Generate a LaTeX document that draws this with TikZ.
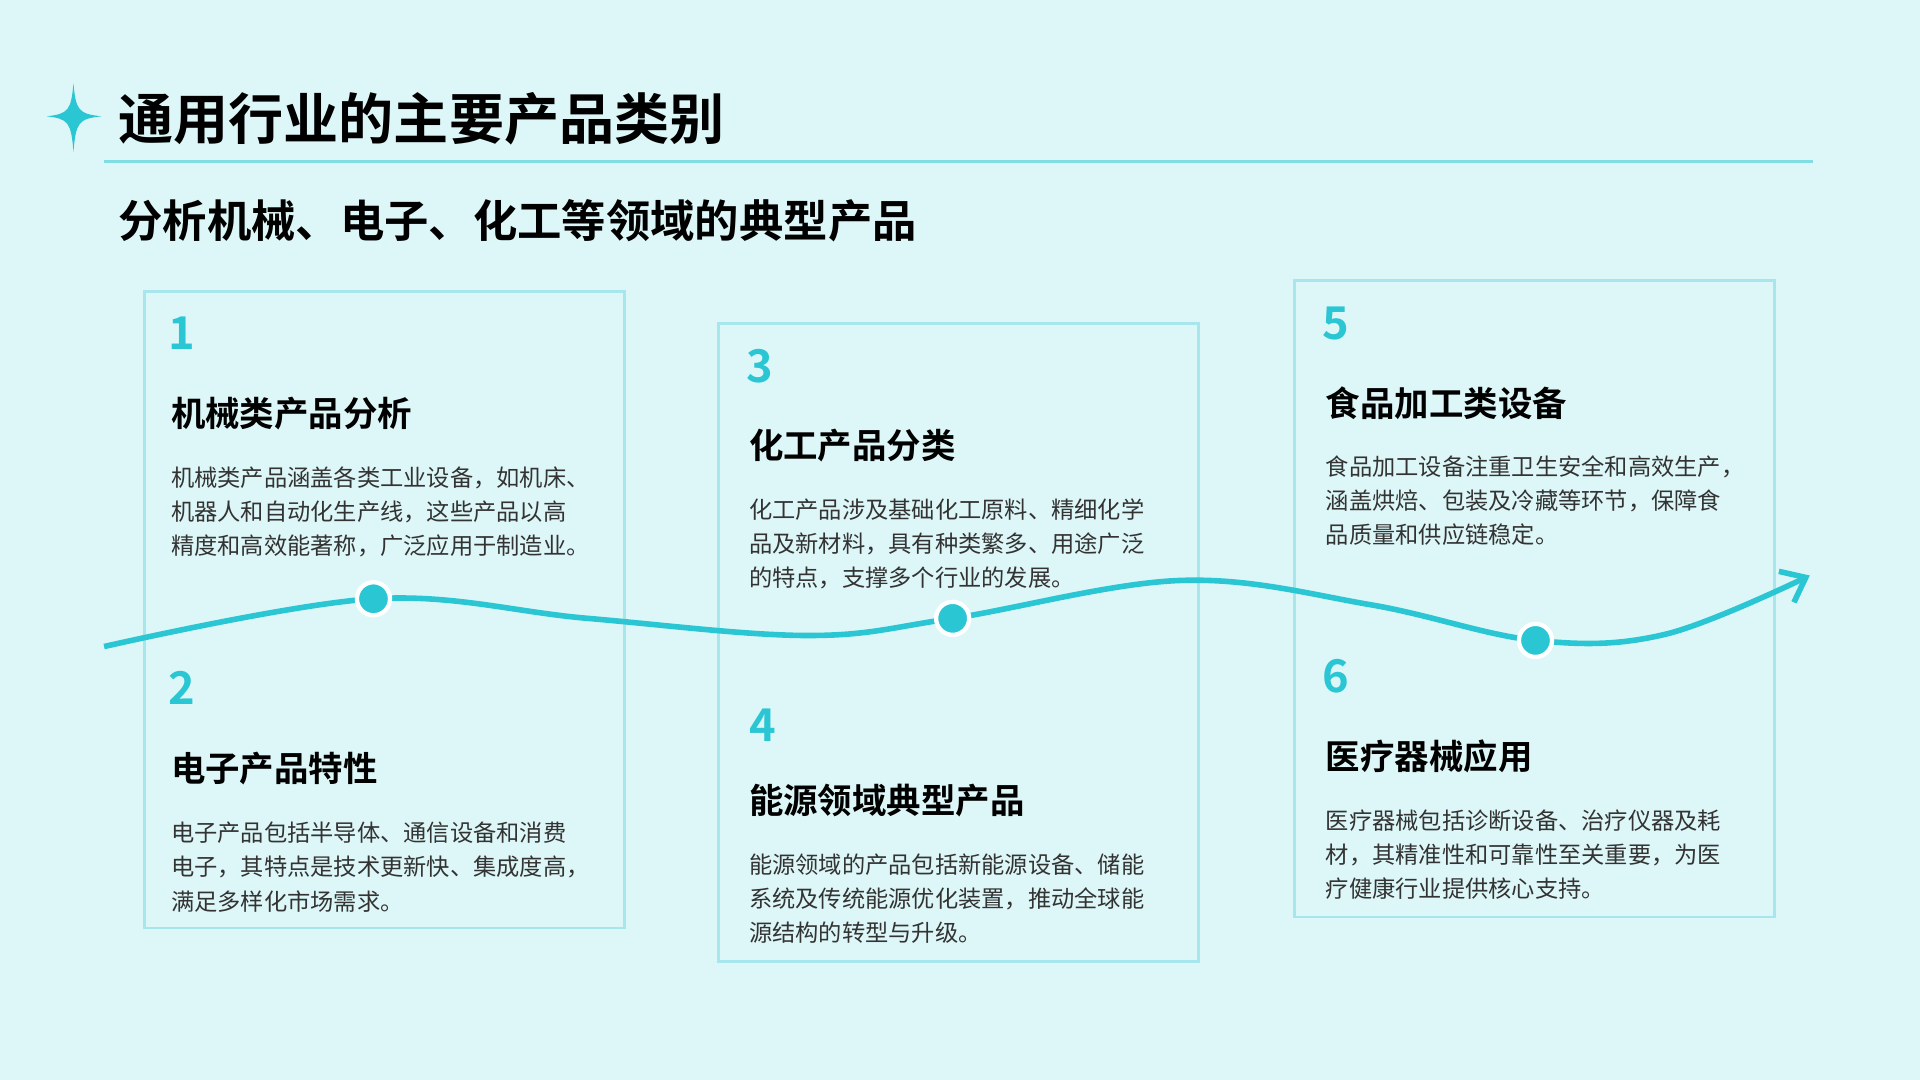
\documentclass[tikz,border=0pt]{standalone}
\usepackage{fontspec}
\setmainfont{Noto Sans CJK SC}
\newfontfamily\cjkb{Noto Sans CJK SC Bold}
\usetikzlibrary{arrows.meta}
\definecolor{bg}{HTML}{DDF7F8}
\definecolor{cy}{HTML}{2BC6D3}
\definecolor{bd}{HTML}{A6E6EC}
\tikzset{x=0.01cm,y=-0.01cm,
 card/.style={draw=bd,line width=0.6pt},
 num/.style={anchor=west,inner sep=0,text=cy,font=\cjkb\fontsize{10.5}{12}\selectfont},
 head/.style={anchor=west,inner sep=0,font=\cjkb\fontsize{8}{10}\selectfont},
 body/.style={anchor=west,inner sep=0,text=black!80,font=\fontsize{5.4}{7}\selectfont},
 dot/.style={circle,fill=cy,draw=white,line width=1pt,minimum size=0.27cm,inner sep=0}}
\begin{document}
\begin{tikzpicture}
\fill[bg] (0,0) rectangle (1568,882);
\useasboundingbox (0,0) rectangle (1568,882);
\fill[cy] (60,68) .. controls (62,90) and (64,93) .. (83,95) .. controls (64,97) and (62,100) .. (60,124) .. controls (58,100) and (56,97) .. (38,95) .. controls (56,93) and (58,90) .. (60,68) -- cycle;
\node[anchor=west,inner sep=0,font=\cjkb\fontsize{12.8}{14}\selectfont] (t) at (96,97) {通用行业的主要产品类别};
\draw[cy!60,line width=0.6pt] (85,132) -- (1481,132);
\node[anchor=west,inner sep=0,font=\cjkb\fontsize{10.3}{12}\selectfont] (st) at (96,180) {分析机械、电子、化工等领域的典型产品};
\draw[card] (118,238) rectangle (510,758);
\draw[card] (587,264) rectangle (979,785);
\draw[card] (1057,229) rectangle (1449,749);
\draw[cy,line width=1.3pt,-{Straight Barb[length=5pt,width=8pt]}] plot[smooth,tension=0.6] coordinates {(85,528) (305,489) (480,505) (660,519) (778,505) (965,474) (1120,494) (1254,523) (1360,518) (1478,470)};
\node[dot] (d1) at (305,489) {};
\node[dot] (d2) at (778,505) {};
\node[dot] (d3) at (1254,523) {};
% box1
\node[num] (n1) at (137,272) {1};
\node[head] (h1) at (139,338) {机械类产品分析};
\node[body] at (139,390) {机械类产品涵盖各类工业设备，如机床、};
\node[body] at (139,418) {机器人和自动化生产线，这些产品以高};
\node[body] at (139,446) {精度和高效能著称，广泛应用于制造业。};
% box2
\node[num] (n2) at (137,562) {2};
\node[head] (h2) at (139,628) {电子产品特性};
\node[body] at (139,680) {电子产品包括半导体、通信设备和消费};
\node[body] at (139,708) {电子，其特点是技术更新快、集成度高，};
\node[body] at (139,736) {满足多样化市场需求。};
% box3
\node[num] (n3) at (609,299) {3};
\node[head] (h3) at (611,364) {化工产品分类};
\node[body] at (611,416) {化工产品涉及基础化工原料、精细化学};
\node[body] at (611,444) {品及新材料，具有种类繁多、用途广泛};
\node[body] at (611,472) {的特点，支撑多个行业的发展。};
% box4
\node[num] (n4) at (611,592) {4};
\node[head] (h4) at (611,654) {能源领域典型产品};
\node[body] at (611,706) {能源领域的产品包括新能源设备、储能};
\node[body] at (611,734) {系统及传统能源优化装置，推动全球能};
\node[body] at (611,762) {源结构的转型与升级。};
% box5
\node[num] (n5) at (1079,264) {5};
\node[head] (h5) at (1082,329) {食品加工类设备};
\node[body] at (1082,381) {食品加工设备注重卫生安全和高效生产，};
\node[body] at (1082,409) {涵盖烘焙、包装及冷藏等环节，保障食};
\node[body] at (1082,437) {品质量和供应链稳定。};
% box6
\node[num] (n6) at (1079,552) {6};
\node[head] (h6) at (1082,618) {医疗器械应用};
\node[body] at (1082,670) {医疗器械包括诊断设备、治疗仪器及耗};
\node[body] at (1082,698) {材，其精准性和可靠性至关重要，为医};
\node[body] at (1082,726) {疗健康行业提供核心支持。};
\end{tikzpicture}
\end{document}
